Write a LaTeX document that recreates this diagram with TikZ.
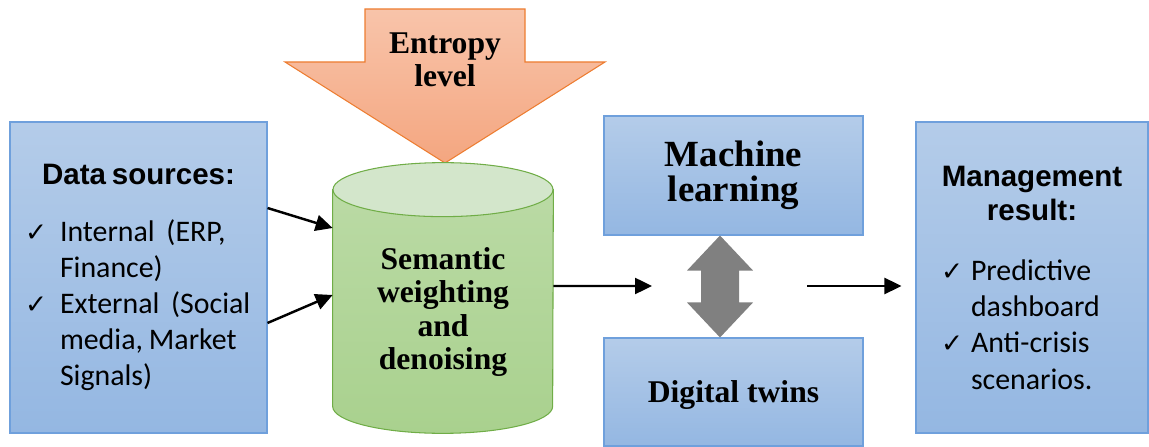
\documentclass[tikz,border=0pt]{standalone}
\usepackage{fontspec}
\setmainfont{Liberation Serif}
\newfontfamily\headfont{Liberation Sans}
\newfontfamily\listfont{Carlito}
\newfontfamily\symfont{DejaVu Sans}
\usetikzlibrary{arrows.meta, positioning, calc}
\definecolor{boxtop}{HTML}{B4CCE9}
\definecolor{boxbottom}{HTML}{94B7E2}
\definecolor{boxline}{HTML}{6FA0DC}
\definecolor{cylbody}{HTML}{A9D18E}
\definecolor{cyltop}{HTML}{D3E6CB}
\definecolor{cylline}{HTML}{70AD47}
\definecolor{entropytop}{HTML}{F8C4AA}
\definecolor{entropybottom}{HTML}{F4A680}
\definecolor{entropyline}{HTML}{ED7D31}

% Listenpunkt mit Haken
\newcommand{\chkitem}[2][0.7cm]{\par\listfont\fontsize{17}{20.5}\selectfont
  \hangindent=#1\hangafter=1\noindent
  \makebox[#1][l]{\symfont\fontsize{15}{15}\selectfont ✓}#2\par}

\begin{document}
\begin{tikzpicture}[
    infobox/.style={
        draw=boxline,
        line width=0.6pt,
        top color=boxtop,
        bottom color=boxbottom,
        minimum height=6.22cm,
        inner ysep=0pt,
      },
    procbox/.style={
        draw=boxline,
        line width=0.6pt,
        top color=boxtop,
        bottom color=boxbottom,
        minimum width=5.18cm,
        align=center,
      },
    serifbold/.style={font=\bfseries\fontsize{18}{19}\selectfont, align=center},
    cylpart/.style={draw=cylline, line width=0.6pt},
    conn/.style={-{Triangle[length=0.34cm, width=0.32cm]}, line width=1.4pt},
    twoway/.style={fill=gray},
    entropyarrow/.style={draw=entropyline, line width=0.6pt, top color=entropytop, bottom color=entropybottom},
  ]

  \useasboundingbox (0,0) rectangle (22.98,8.92);

  % Datenquellen links
  \node[infobox, minimum width=5.14cm, text width=4.54cm, inner xsep=0.3cm] (src) at (2.77,3.37) {%
    {\centering\headfont\bfseries\fontsize{16.8}{19.5}\selectfont Data sources:\par}
    \vspace{12pt}
    \chkitem{Internal\ \ (ERP,\newline Finance)}
    \chkitem{External\ \ (Social\newline media, Market\newline Signals)}
    \vspace*{-0.2cm}};

  % Entropie-Pfeil oben
  \path[entropyarrow] (7.3,8.74) -- (10.5,8.74) -- (10.5,7.68) -- (12.1,7.68)
  -- (8.9,5.66) -- (5.7,7.68) -- (7.3,7.68) -- cycle;
  \node[serifbold] (entropy) at (8.9,7.72) {Entropy\\level};

  % Zylinder
  \node[minimum width=4.4cm, minimum height=4.32cm, inner sep=0pt] (cyl) at (8.86,2.96) {};
  \path[cylpart, top color=cylbody!80!white, bottom color=cylbody]
  (cyl.north west) -- (cyl.south west)
  arc[start angle=180, end angle=360, x radius=2.2cm, y radius=0.54cm]
  -- (cyl.north east) -- cycle;
  \path[cylpart, fill=cyltop] (cyl.north) ellipse [x radius=2.2cm, y radius=0.54cm];
  \node[serifbold] (sem) at ($(cyl.center)+(0,-0.28)$) {Semantic\\weighting\\and\\denoising};

  % Pfeile in den Zylinder
  \draw[conn] ($(src.east)+(0,1.39)$) -- ($(cyl.west)+(0,1.4)$);
  \draw[conn] ($(src.east)+(0,-0.91)$) -- ($(cyl.west)+(0,0.06)$);

  % Mittlere Kaesten
  \node[procbox, minimum height=2.38cm, font=\bfseries\fontsize{21}{20}\selectfont] (ml) at (14.67,5.41) {Machine\\learning};
  \node[procbox, minimum height=2.16cm, serifbold, text depth=0pt] (dt) at (14.67,1.08) {Digital twins};

  % Doppelpfeil grau
  \coordinate (twTop) at ($(ml.south)+(-0.27,0)$);
  \coordinate (twBot) at ($(dt.north)+(-0.27,0)$);
  \path[twoway] (twTop) -- ++(0.66,-0.7) -- ++(-0.28,0) -- ($(twBot)+(0.38,0.7)$)
  -- ++(0.28,0) -- (twBot) -- ++(-0.66,0.7) -- ++(0.28,0)
  -- ($(twTop)+(-0.38,-0.7)$) -- ++(-0.28,0) -- cycle;

  % Ergebnis rechts
  \node[infobox, minimum width=4.64cm, text width=3.64cm, inner xsep=0.5cm] (res) at (20.64,3.37) {%
    {\centering\headfont\bfseries\fontsize{16.8}{19.5}\selectfont Management\\result:\par}
    \vspace{14pt}
    \chkitem[0.6cm]{Predictive\newline dashboard}
    \chkitem[0.6cm]{Anti-crisis\newline scenarios.}
    \vspace*{-0.1cm}};

  % Horizontale Pfeile
  \coordinate (mlin) at (13.04,3.2);
  \coordinate (mlout) at (16.14,3.2);
  \draw[conn] ($(cyl.east)+(0,0.24)$) -- (mlin);
  \draw[conn, shorten >=0.28cm] (mlout) -- (mlout -| res.west);

\end{tikzpicture}
\end{document}
